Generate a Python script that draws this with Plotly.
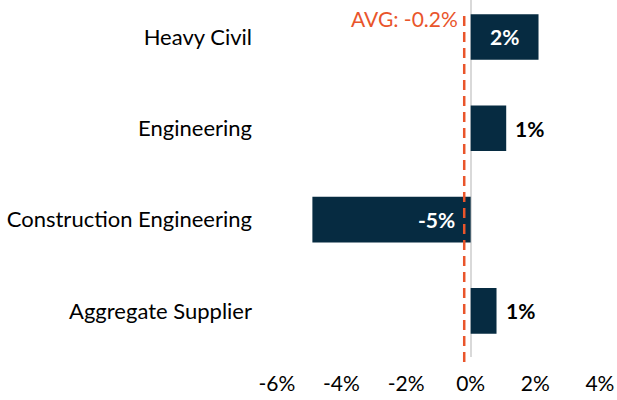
import plotly.graph_objects as go

categories = ["Heavy Civil", "Engineering", "Construction Engineering", "Aggregate Supplier"]
values = [2.1, 1.1, -4.9, 0.8]
avg_value = -0.2
tick_vals = [-6, -4, -2, 0, 2, 4]
tick_text = ["-6%", "-4%", "-2%", "0%", "2%", "4%"]

BAR = "#062B41"
ORANGE = "#E9552B"
FONT = "Lato, Calibri, Arial, sans-serif"
FS = 21

fig = go.Figure()
fig.add_trace(go.Bar(
    y=categories, x=values, orientation="h",
    marker=dict(color=BAR, line=dict(width=0)),
    width=0.5, hoverinfo="skip",
))

# value labels
for c, v in zip(categories, values):
    txt = f"{round(v):d}%"
    if v >= 1.5:
        fig.add_annotation(x=v / 2, y=c, text=f"<b>{txt}</b>", showarrow=False,
                           font=dict(color="white", size=FS, family=FONT), xanchor="center")
    elif v < 0:
        fig.add_annotation(x=0, y=c, text=f"<b>{txt}</b>", showarrow=False,
                           font=dict(color="white", size=FS, family=FONT), xanchor="right", xshift=-14)
    else:
        fig.add_annotation(x=v, y=c, text=f"<b>{txt}</b>", showarrow=False,
                           font=dict(color="black", size=FS, family=FONT), xanchor="left", xshift=7)

# average line
fig.add_shape(type="line", xref="x", yref="paper", x0=avg_value, x1=avg_value,
              y0=-0.014, y1=0.963, line=dict(color=ORANGE, width=2.5, dash="10px,6px"))
fig.add_annotation(x=avg_value, xref="x", yref="paper", y=0.948, yanchor="middle",
                   text=f"AVG: {avg_value}%",
                   showarrow=False, xanchor="right", xshift=-4,
                   font=dict(color=ORANGE, size=FS, family=FONT))

fig.update_layout(
    width=617, height=400,
    margin=dict(l=262, r=10, t=0, b=43),
    plot_bgcolor="white", paper_bgcolor="white",
    showlegend=False,
    font=dict(family=FONT, size=FS, color="black"),
    xaxis=dict(range=[-6.46, 4.22], tickvals=tick_vals, ticktext=tick_text,
               showgrid=False, zeroline=True, zerolinecolor="#D9D9D9", zerolinewidth=2,
               showline=False, ticks="", tickfont=dict(size=FS), automargin=False,
               ticklabelstandoff=12),
    yaxis=dict(categoryorder="array", categoryarray=categories,
               range=[3.505, -0.405], showgrid=False, ticks="", showline=False,
               ticklabelstandoff=9, tickfont=dict(size=22), automargin=False),
)

fig.write_html("out.html", config={"displayModeBar": False},
               post_script="document.body.style.margin='0';")
